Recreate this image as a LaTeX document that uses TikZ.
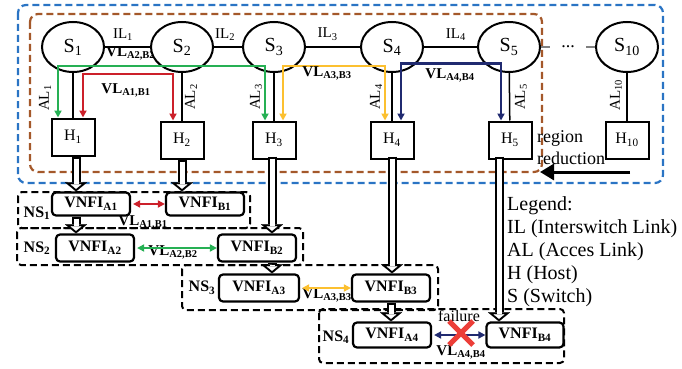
\documentclass[tikz,border=0pt]{standalone}
\usepackage{fontspec}
\setmainfont{Liberation Serif}
\usepackage{tikz}
\usetikzlibrary{positioning}
\usetikzlibrary{calc}
\usetikzlibrary{shapes.geometric}
\usetikzlibrary{arrows.meta}
\usepackage{xcolor}
\definecolor{vlgreen}{RGB}{38,176,84}
\definecolor{vlred}{RGB}{204,32,42}
\definecolor{vlyellow}{RGB}{252,192,48}
\definecolor{vlnavy}{RGB}{32,42,112}
\definecolor{regionblue}{RGB}{42,116,196}
\definecolor{regionbrown}{RGB}{164,88,42}
\definecolor{failred}{RGB}{236,62,56}
\newcommand{\fsz}[1]{\fontsize{#1}{#1}\selectfont}

\begin{document}
\begin{tikzpicture}[
    x=1pt, y=-1pt,
    switch/.style={draw, ellipse, line width=2pt, fill=white, inner sep=0pt,
        minimum width=62pt, minimum height=50pt, font=\fsz{20}},
    host/.style={draw, line width=2pt, fill=white, inner sep=0pt,
        minimum width=43pt, minimum height=37pt, font=\fsz{16}},
    vnfi/.style={draw, line width=2.2pt, rounded corners=4pt, fill=white, inner sep=0pt,
        minimum width=78pt, minimum height=25pt, font=\fsz{16}\bfseries},
    region/.style={line width=2.2pt, dash pattern=on 7pt off 4pt, rounded corners=8pt},
    slice/.style={line width=2pt, dash pattern=on 7pt off 4pt, rounded corners=4pt},
    link/.style={line width=1.5pt},
    link label/.style={font=\fsz{15}, inner sep=1pt},
    vl label/.style={font=\fsz{15}\bfseries, inner sep=0pt},
    vl/.style={line width=2pt,
        {Triangle[length=7pt,width=7pt]}-{Triangle[length=7pt,width=7pt]}},
    host arrow/.style={line width=9pt,
        -{Triangle[length=9pt,width=22pt,line width=0.1pt]},
        postaction={draw=white, line width=5pt, shorten <=2pt, shorten >=2.6pt,
            -{Triangle[length=4.4pt,width=10.8pt,line width=0.1pt]}}}
]
    \useasboundingbox (0,0) rectangle (682,369);

    % Regions
    \draw[region, regionblue] (18,5) rectangle (663,183);
    \draw[region, regionbrown] (30,14) rectangle (542,172);

    \node (vla2b2top) at (106,53) [anchor=west, vl label] {VL\textsubscript{A2,B2}};

    % Switches
    \node (s1) at (73,47) [switch] {S\textsubscript{1}};
    \node (s2) at (182,47) [switch] {S\textsubscript{2}};
    \node (s3) at (274,47) [switch] {S\textsubscript{3}};
    \node (s4) at (392,47) [switch] {S\textsubscript{4}};
    \node (s5) at (509,47) [switch] {S\textsubscript{5}};
    \node (s10) at (627,47) [switch] {S\textsubscript{10}};

    \draw[link] (s1) -- (s2) node[pos=0.4, above=5pt, link label] {IL\textsubscript{1}};
    \draw[link] (s2) -- (s3) node[pos=0.4, above=5pt, link label] {IL\textsubscript{2}};
    \draw[link] (s3) -- (s4) node[pos=0.4, above=5pt, link label] {IL\textsubscript{3}};
    \draw[link] (s4) -- (s5) node[pos=0.6, above=5pt, link label] {IL\textsubscript{4}};
    \draw[link, gray] (s5) -- (s10) node[midway, fill=white, minimum width=36pt, inner sep=0pt,
        text=black, font=\fsz{18}] (dots) {...};

    % Hosts
    \node (h1) at (73,137) [host] {H\textsubscript{1}};
    \node (h2) at (182,140) [host] {H\textsubscript{2}};
    \node (h3) at (274,140) [host] {H\textsubscript{3}};
    \node (h4) at (392,140) [host] {H\textsubscript{4}};
    \node (h5) at (510,140) [host] {H\textsubscript{5}};
    \node (h10) at (627,140) [host] {H\textsubscript{10}};

    \draw[link] (s1) -- (h1);
    \draw[link] (s2) -- (h2);
    \draw[link] (s3) -- (h3);
    \draw[link] (s4) -- (h4);
    \draw[link] (s5) -- (h5);
    \draw[link] (s10) -- (h10);

    \node (al1) at (45,98) [rotate=90, link label] {AL\textsubscript{1}};
    \node (al2) at (191,97) [rotate=90, link label] {AL\textsubscript{2}};
    \node (al3) at (256,97) [rotate=90, link label] {AL\textsubscript{3}};
    \node (al4) at (376,97) [rotate=90, link label] {AL\textsubscript{4}};
    \node (al5) at (521,97) [rotate=90, link label] {AL\textsubscript{5}};
    \node (al10) at (616,95) [rotate=90, link label] {AL\textsubscript{10}};

    % Virtual links between hosts
    \draw[vl, vlgreen] ($(h1.north)+(-15,0)$) |- ($(h3.north)+(-9,-55)$) -- ($(h3.north)+(-9,0)$);
    \draw[vl, vlred] ($(h1.north)+(10,0)$) |- ($(h2.north)+(-9,-47)$) -- ($(h2.north)+(-9,0)$);
    \draw[vl, vlyellow] ($(h3.north)+(9,0)$) |- ($(h4.north)+(-7,-55)$) -- ($(h4.north)+(-7,0)$);
    \draw[vl, vlnavy] ($(h4.north)+(9,0)$) |- ($(h5.north)+(-9,-57)$) -- ($(h5.north)+(-9,0)$);

    \node (vla1b1top) at (126,90) [vl label] {VL\textsubscript{A1,B1}};
    \node (vla3b3top) at (327,73) [vl label] {VL\textsubscript{A3,B3}};
    \node (vla4b4top) at (450,75) [vl label] {VL\textsubscript{A4,B4}};

    \node (regiontxt) at (537,130) [anchor=north west, inner sep=0pt, align=left,
        font=\fontsize{18}{22}\selectfont] {region\\reduction};
    \coordinate (shrinkstart) at (630,172);
    \coordinate (shrinkend) at (540,172);
    \draw[line width=3pt, -{Triangle[length=14pt,width=16pt]}] (shrinkstart) -- (shrinkend);

    % Network slices
    \draw[slice] (18,192) rectangle (250,228);
    \draw[slice] (17,228) rectangle (303,265);
    \draw[slice] (182,265) rectangle (438,310);
    \draw[slice] (319,309) rectangle (564,363);

    \node (ns1) at (37,213) [font=\fsz{16}\bfseries] {NS\textsubscript{1}};
    \node (ns2) at (37,248) [font=\fsz{16}\bfseries] {NS\textsubscript{2}};
    \node (ns3) at (202,288) [font=\fsz{16}\bfseries] {NS\textsubscript{3}};
    \node (ns4) at (336,337) [font=\fsz{16}\bfseries] {NS\textsubscript{4}};

    \node (vla1b1) at (143,222) [vl label] {VL\textsubscript{A1,B1}};
    \node (vla2b2) at (173,252) [vl label] {VL\textsubscript{A2,B2}};
    \node (vla3b3) at (327,295) [vl label] {VL\textsubscript{A3,B3}};
    \node (vla4b4) at (461,352) [vl label] {VL\textsubscript{A4,B4}};

    % VNF instances
    \node (a1) at (91,204) [vnfi, minimum height=23pt] {VNFI\textsubscript{A1}};
    \node (b1) at (205,204) [vnfi, minimum height=23pt] {VNFI\textsubscript{B1}};
    \node (a2) at (95,248) [vnfi, minimum height=27pt] {VNFI\textsubscript{A2}};
    \node (b2) at (257,248) [vnfi, minimum height=27pt] {VNFI\textsubscript{B2}};
    \node (a3) at (259,288) [vnfi, minimum height=27pt, minimum width=80pt] {VNFI\textsubscript{A3}};
    \node (b3) at (391,288) [vnfi, minimum height=27pt] {VNFI\textsubscript{B3}};
    \node (a4) at (392,335) [vnfi] {VNFI\textsubscript{A4}};
    \node (b4) at (525,335) [vnfi, minimum width=77pt] {VNFI\textsubscript{B4}};

    \draw[vl, vlred, shorten <=2pt] (a1) -- (b1);
    \draw[vl, vlgreen, shorten <=2pt] (a2) -- (b2);
    \draw[vl, vlyellow, shorten <=2pt] (a3) -- (b3);
    \draw[vl, vlnavy, shorten <=2pt] (a4) -- (b4);

    % Host to VNFI mapping
    \draw[host arrow] ($(h1.south)+(3,0)$) -- ($(h1.south |- a1.north)+(3,0)$);
    \draw[host arrow] (h2.south) -- (h2.south |- b1.north);
    \draw[host arrow] ($(a1.south)+(-15,0)$) -- ($(a1.south |- a2.north)+(-15,0)$);
    \draw[host arrow] ($(h3.south)+(-2,-3)$) -- ($(h3.south |- b2.north)+(-2,0)$);
    \draw[host arrow] ($(b2.south)+(15,0)$) -- ($(b2.south |- a3.north)+(15,0)$);
    \draw[host arrow] ($(h4.south)+(0,-3)$) -- (h4.south |- b3.north);
    \draw[host arrow] (b3.south) -- (b3.south |- a4.north);
    \draw[host arrow] ($(h5.south)+(-11,-3)$) -- ($(h5.south |- b4.north)+(-11,0)$);

    % Failure
    \node (failtxt) at (459,316) [font=\fsz{16}] {failure};
    \draw[failred, line width=5pt] (449,321) -- (473,345);
    \draw[failred, line width=5pt] (449,345) -- (473,321);

    \node (legend) at (507,196) [anchor=north west, inner sep=0pt, align=left,
        font=\fontsize{20}{23}\selectfont]
        {Legend:\\IL (Interswitch Link)\\AL (Acces Link)\\H (Host)\\S (Switch)};

\end{tikzpicture}
\end{document}
